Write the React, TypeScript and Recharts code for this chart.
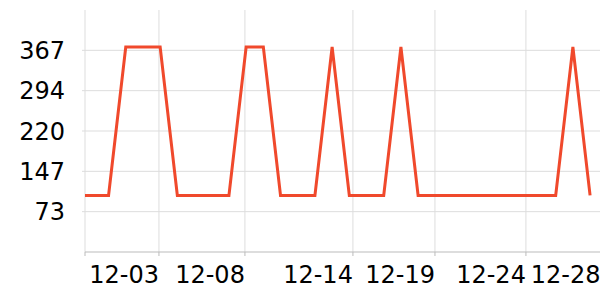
import React from 'react';
import { LineChart, Line, XAxis, YAxis, CartesianGrid, ReferenceLine } from 'recharts';

// one point per day, position on the x axis (day index)
const dayIndex = [
  0, 1, 2, 3, 4, 5, 6, 7, 8, 9, 10, 11, 12, 13, 14, 15,
  16, 17, 18, 19, 20, 21, 22, 23, 24, 25, 26, 27, 28, 29, 30,
];
const counts = [
  103, 103, 103, 373, 373, 373, 103, 103, 103, 103, 373, 373, 103, 103, 103, 373,
  103, 103, 103, 373, 103, 103, 103, 103, 103, 103, 103, 103, 103, 373, 103,
];

const xTicks = [0.63, 4.93, 9.93, 16.21, 20.98, 26.27, 30.61];
const xTickLabels = ['', '12-03', '12-08', '12-14', '12-19', '12-24', '12-28'];
const yTicks = [73.4, 146.8, 220.2, 293.6, 367];

const data = dayIndex.map((d, i) => ({ day: d, count: counts[i] }));

const FONT = '"DejaVu Sans", sans-serif';

const DateTick = (props: any) => {
  const { x, y, payload } = props;
  const idx = xTicks.indexOf(payload.value);
  const label = idx >= 0 ? xTickLabels[idx] : '';
  return (
    <text x={x} y={y} dy={24.5} textAnchor="end" fontSize={24} fontFamily={FONT} fill="#000">
      {label}
    </text>
  );
};

export default function App() {
  return (
    <div style={{ position: 'absolute', left: 0, top: 0, width: 600, height: 300, overflow: 'hidden', background: '#fff' }}>
      <LineChart width={620} height={300} data={data} margin={{ top: 10, right: 11, left: 0, bottom: 0 }}>
        <CartesianGrid stroke="#dddddd" strokeWidth={1} horizontal={false} />
        {yTicks.map((t) => (
          <ReferenceLine key={t} y={t} stroke="#dddddd" strokeWidth={1} />
        ))}
        <XAxis
          dataKey="day"
          type="number"
          domain={[0.63, 31.1]}
          allowDataOverflow
          ticks={xTicks}
          interval={0}
          height={48}
          tick={<DateTick />}
          tickSize={4}
          tickMargin={2}
          axisLine={{ stroke: '#bbbbbb' }}
          tickLine={{ stroke: '#bbbbbb' }}
        />
        <YAxis
          type="number"
          domain={[0, 440.4]}
          ticks={yTicks}
          interval={0}
          width={85}
          tickFormatter={(v: number) => String(Math.round(v))}
          tick={{ fontSize: 24, fontFamily: FONT, fill: '#000' }}
          tickSize={3}
          tickMargin={17}
          axisLine={false}
          tickLine={{ stroke: '#dddddd' }}
        />
        <Line
          type="linear"
          dataKey="count"
          stroke="#f0492c"
          strokeWidth={3}
          dot={false}
          isAnimationActive={false}
        />
      </LineChart>
    </div>
  );
}
